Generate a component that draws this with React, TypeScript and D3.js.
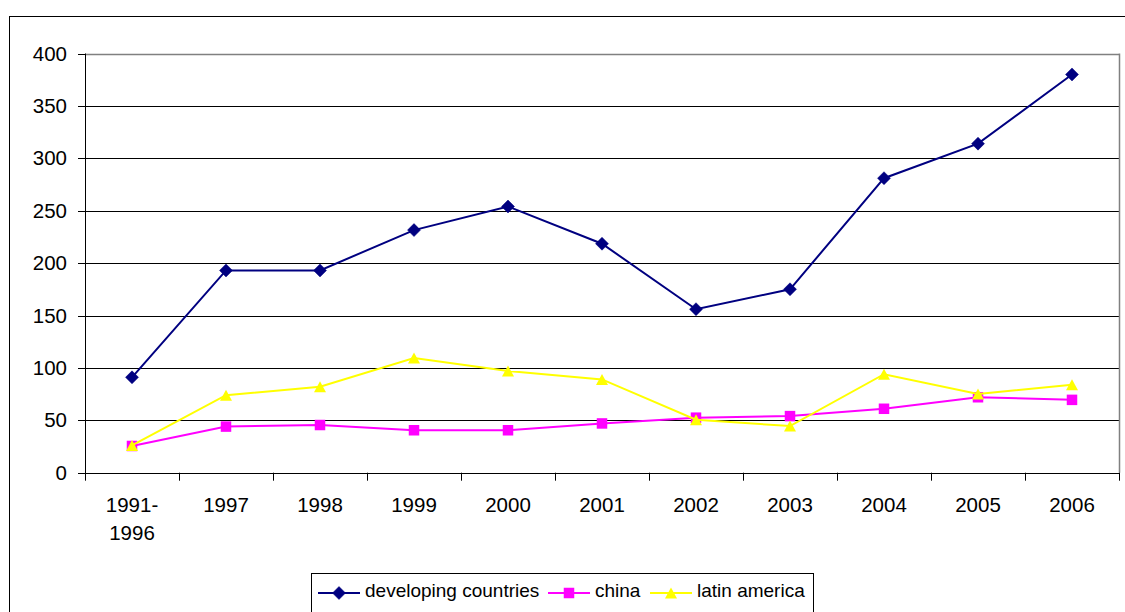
import React from "react";
import * as d3 from "d3";

const categories = ["1991-\n1996", "1997", "1998", "1999", "2000", "2001", "2002", "2003", "2004", "2005", "2006"];
const developing = [91, 193, 193, 231.5, 254, 218.5, 156, 175, 281, 314, 380];
const china = [25.5, 44, 45.5, 40.5, 40.5, 47, 52.5, 54, 61, 72, 69.5];
const latinAmerica = [26, 74, 82, 109.5, 97, 89, 50.5, 44.5, 94, 75, 84];
const yTicks = [0, 50, 100, 150, 200, 250, 300, 350, 400];

const seriesList = [
  { name: "developing countries", values: developing, color: "#000080", marker: "diamond" },
  { name: "china", values: china, color: "#FF00FF", marker: "square" },
  { name: "latin america", values: latinAmerica, color: "#FFFF00", marker: "triangle" },
];

const W = 1125;
const H = 612;
const plot = { left: 85, right: 1119, top: 53.5, bottom: 472.7 };
const font = "Arial, 'Liberation Sans', Helvetica, sans-serif";

function Marker({ kind, x, y, color }: { kind: string; x: number; y: number; color: string }) {
  if (kind === "diamond") {
    const r = 6.5;
    return <path d={`M${x},${y - r}L${x + r},${y}L${x},${y + r}L${x - r},${y}Z`} fill={color} stroke={color} strokeWidth={0.5} />;
  }
  if (kind === "square") {
    const s = 10.5;
    return <rect x={x - s / 2} y={y - s / 2} width={s} height={s} fill={color} />;
  }
  const h = 11;
  const w = 12;
  return <path d={`M${x},${y - h / 2}L${x + w / 2},${y + h / 2}L${x - w / 2},${y + h / 2}Z`} fill={color} />;
}

export default function App() {
  const x = d3.scaleBand<string>().domain(categories).range([plot.left, plot.right]).padding(0);
  const y = d3.scaleLinear().domain([0, 400]).range([plot.bottom, plot.top]);
  const cx = (c: string) => (x(c) as number) + x.bandwidth() / 2;

  const lineGen = (vals: number[]) =>
    d3
      .line<number>()
      .x((_, i) => cx(categories[i]))
      .y((v) => y(v))(vals) as string;

  const boundaries = d3.range(categories.length + 1).map((i) => plot.left + i * x.bandwidth());

  // legend layout
  const legendItems = [
    { lineX: 318, textX: 365 },
    { lineX: 548, textX: 595 },
    { lineX: 650, textX: 697 },
  ];
  const legendY = 593;

  return (
    <svg width={W} height={H} style={{ position: "absolute", left: 0, top: 0, background: "#fff" }} fontFamily={font}>
      <rect x={0} y={0} width={W} height={H} fill="#fff" />
      {/* chart frame */}
      <rect x={9.5} y={16.5} width={W + 20} height={H + 20} fill="none" stroke="#000" strokeWidth={1} />

      {/* gridlines */}
      {yTicks.filter((t) => t > 0 && t < 400).map((t) => (
        <line key={t} x1={plot.left} x2={plot.right} y1={Math.round(y(t)) + 0.5} y2={Math.round(y(t)) + 0.5} stroke="#000" strokeWidth={1} />
      ))}
      {/* plot area border */}
      <line x1={plot.left} x2={plot.right} y1={Math.round(plot.top) + 0.5} y2={Math.round(plot.top) + 0.5} stroke="#808080" strokeWidth={1.5} />
      <line x1={plot.right + 0.5} x2={plot.right + 0.5} y1={plot.top} y2={plot.bottom} stroke="#808080" strokeWidth={1.5} />

      {/* y axis */}
      <line x1={plot.left + 0.5} x2={plot.left + 0.5} y1={plot.top} y2={plot.bottom + 7} stroke="#000" strokeWidth={1} />
      {yTicks.map((t) => (
        <g key={t}>
          <line x1={plot.left - 7} x2={plot.left} y1={Math.round(y(t)) + 0.5} y2={Math.round(y(t)) + 0.5} stroke="#000" />
          <text x={67} y={y(t) + 7} textAnchor="end" fontSize={20.5} fill="#000">
            {t}
          </text>
        </g>
      ))}

      {/* x axis */}
      <line x1={plot.left} x2={plot.right} y1={Math.round(plot.bottom) + 0.5} y2={Math.round(plot.bottom) + 0.5} stroke="#000" />
      {boundaries.map((b, i) => (
        <line key={i} x1={Math.round(b) + 0.5} x2={Math.round(b) + 0.5} y1={plot.bottom} y2={plot.bottom + 8} stroke="#000" />
      ))}
      {categories.map((c) => (
        <text key={c} x={cx(c)} y={512} textAnchor="middle" fontSize={20.5} fill="#000">
          {c.split("\n").map((part, i) => (
            <tspan key={i} x={cx(c)} dy={i === 0 ? 0 : 28}>
              {part}
            </tspan>
          ))}
        </text>
      ))}

      {/* series */}
      {seriesList.map((s) => (
        <g key={s.name}>
          <path d={lineGen(s.values)} fill="none" stroke={s.color} strokeWidth={2} />
          {s.values.map((v, i) => (
            <Marker key={i} kind={s.marker} x={cx(categories[i])} y={y(v)} color={s.color} />
          ))}
        </g>
      ))}

      {/* legend */}
      <rect x={311.5} y={573.5} width={502} height={60} fill="#fff" stroke="#000" strokeWidth={1} />
      {seriesList.map((s, i) => (
        <g key={s.name}>
          <line x1={legendItems[i].lineX} x2={legendItems[i].lineX + 42} y1={legendY} y2={legendY} stroke={s.color} strokeWidth={2} />
          <Marker kind={s.marker} x={legendItems[i].lineX + 21} y={legendY} color={s.color} />
          <text x={legendItems[i].textX} y={legendY + 4} fontSize={19} fill="#000">
            {s.name}
          </text>
        </g>
      ))}
    </svg>
  );
}
